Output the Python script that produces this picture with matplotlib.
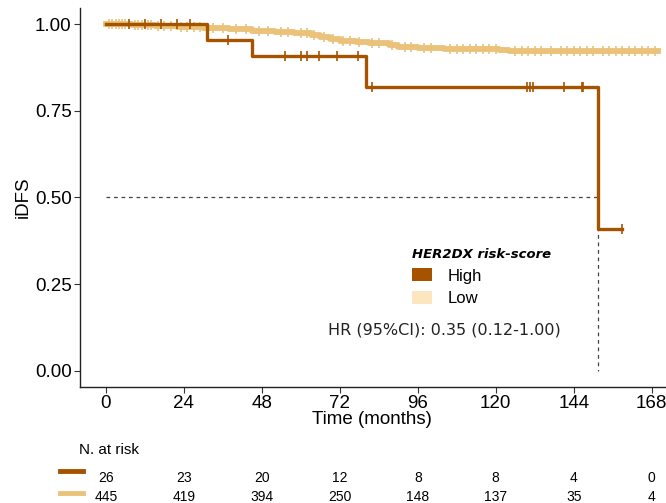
import numpy as np
import matplotlib.pyplot as plt
from matplotlib.patches import Patch
from matplotlib.lines import Line2D
from matplotlib.transforms import blended_transform_factory

# Kaplan-Meier step data
high_times = [0, 31, 45, 80, 151.5, 159]
high_surv = [1.0, 0.955, 0.909, 0.818, 0.409, 0.409]
high_cens_t = [7, 12, 17, 22, 26, 37.5, 55, 60, 62, 65.5, 71, 77.5, 82, 129.5, 130.5, 131.5, 141, 146.5, 147, 159]

low_times = [0, 8, 15, 22, 30, 38, 45, 52, 58, 63, 66, 69, 72, 77, 81, 87, 90, 96, 104, 121, 124, 170]
low_surv = [1.0, 0.997, 0.994, 0.991, 0.988, 0.985, 0.981, 0.977, 0.973, 0.968, 0.962, 0.957, 0.952, 0.948, 0.944, 0.940, 0.935, 0.931, 0.928, 0.925, 0.921, 0.921]
low_cens_t = [1, 2, 3, 4, 5, 6, 9, 10, 11, 13, 14, 16, 18, 20, 23, 25, 27, 29, 33, 36, 40, 43, 47,
              50, 54, 56, 60, 62, 64, 67, 70, 73, 75, 78, 82, 84, 88, 92, 94, 98, 100, 106,
              108, 110, 112, 114, 116, 118, 120, 126, 128, 130, 132, 134, 137, 140, 142,
              144, 146, 148, 150, 153, 155, 157, 159, 161, 163, 165, 167, 169]

risk_times = [0, 24, 48, 72, 96, 120, 144, 168]
risk_high = [26, 23, 20, 12, 8, 8, 4, 0]
risk_low = [445, 419, 394, 250, 148, 137, 35, 4]

median_high = 151.5

c_high = '#A65300'
c_low = '#EBC27A'
c_low_patch = '#FCE6C0'


def surv_at(times, surv, t):
    idx = np.searchsorted(times, t, side='right') - 1
    return np.array(surv)[idx]


plt.rcParams['font.family'] = ['Liberation Sans', 'DejaVu Sans']
fig = plt.figure(figsize=(6.66, 5.03), dpi=100)
ax = fig.add_axes([0.120, 0.231, 0.878, 0.753])

ax.step(low_times, low_surv, where='post', color=c_low, lw=4.2, zorder=2)
ax.plot(low_cens_t, surv_at(low_times, low_surv, low_cens_t), ls='none', marker='|',
        ms=7.5, mew=1.2, color=c_low, zorder=2)
ax.step(high_times, high_surv, where='post', color=c_high, lw=2.4, zorder=3)
ax.plot(high_cens_t, surv_at(high_times, high_surv, high_cens_t), ls='none', marker='|',
        ms=7, mew=1.2, color=c_high, zorder=3)

# median line
ax.plot([0, median_high], [0.5, 0.5], ls=(0, (3, 3)), color='#444444', lw=0.9, zorder=1)
ax.plot([median_high, median_high], [0.5, 0], ls=(0, (3, 3)), color='#444444', lw=0.9, zorder=1)

ax.set_xlim(-8, 172)
ax.set_ylim(-0.046, 1.046)
ax.set_xticks(risk_times)
ax.set_yticks([0, 0.25, 0.5, 0.75, 1.0])
ax.set_yticklabels(['0.00', '0.25', '0.50', '0.75', '1.00'])
ax.tick_params(labelsize=13.5, length=4, width=0.8, color='#333333', pad=2)
for s in ['top', 'right']:
    ax.spines[s].set_visible(False)
for s in ['left', 'bottom']:
    ax.spines[s].set_linewidth(1.0)
    ax.spines[s].set_color('#222222')
ax.set_xlabel('Time (months)', fontsize=13.5, labelpad=-1)
ax.set_ylabel('iDFS', fontsize=13.5, labelpad=2)

# legend
handles = [Patch(facecolor=c_high, edgecolor='none'), Patch(facecolor=c_low_patch, edgecolor='none')]
leg = ax.legend(handles, ['High', 'Low'], title='HER2DX risk-score', loc='upper left',
                bbox_to_anchor=(0.557, 0.385), frameon=False, fontsize=12,
                handlelength=1.2, handleheight=0.85, handletextpad=0.9, labelspacing=0.45,
                borderaxespad=0)
leg.get_title().set_fontfamily('DejaVu Sans')
leg.get_title().set_fontweight('bold')
leg.get_title().set_fontstyle('italic')
leg.get_title().set_fontsize(9.5)
leg._legend_box.align = 'left'

ax.text(0.424, 0.150, 'HR (95%CI): 0.35 (0.12-1.00)', transform=ax.transAxes,
        fontsize=11.5, family='DejaVu Sans', color='#222222', va='center')

# risk table
tr = blended_transform_factory(ax.transData, fig.transFigure)
fig.text(0.119, 0.105, 'N. at risk', fontsize=11, va='center', ha='left')
for t, h, l in zip(risk_times, risk_high, risk_low):
    fig.text(t, 0.050, str(h), transform=tr, fontsize=10, ha='center', va='center')
    fig.text(t, 0.012, str(l), transform=tr, fontsize=10, ha='center', va='center')
fig.add_artist(Line2D([0.090, 0.124], [0.063, 0.063], color=c_high, lw=3.5, transform=fig.transFigure))
fig.add_artist(Line2D([0.090, 0.124], [0.020, 0.020], color=c_low, lw=3.5, transform=fig.transFigure))

fig.savefig('out.png', dpi=100)
